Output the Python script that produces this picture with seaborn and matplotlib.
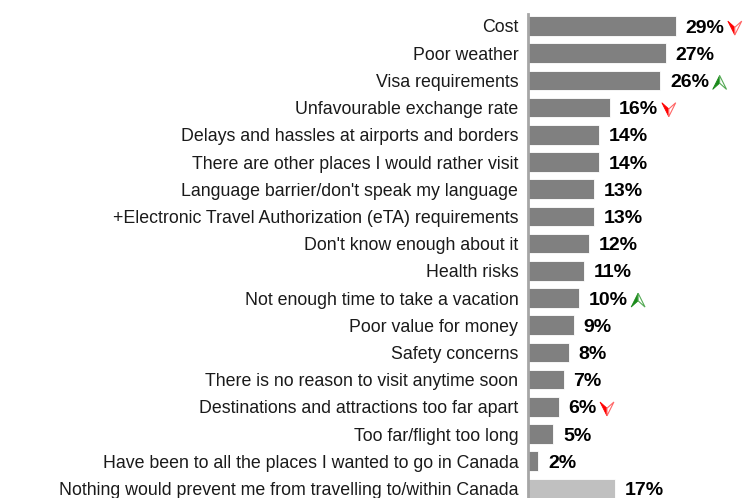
import matplotlib
matplotlib.use("Agg")
import matplotlib.pyplot as plt
import seaborn as sns
from matplotlib.offsetbox import AnnotationBbox, DrawingArea
from matplotlib.patches import Polygon

labels = [
    "Cost",
    "Poor weather",
    "Visa requirements",
    "Unfavourable exchange rate",
    "Delays and hassles at airports and borders",
    "There are other places I would rather visit",
    "Language barrier/don't speak my language",
    "+Electronic Travel Authorization (eTA) requirements",
    "Don't know enough about it",
    "Health risks",
    "Not enough time to take a vacation",
    "Poor value for money",
    "Safety concerns",
    "There is no reason to visit anytime soon",
    "Destinations and attractions too far apart",
    "Too far/flight too long",
    "Have been to all the places I wanted to go in Canada",
    "Nothing would prevent me from travelling to/within Canada",
]
values = [29, 27, 26, 16, 14, 14, 13, 13, 12, 11, 10, 9, 8, 7, 6, 5, 2, 17]
# trend markers: -1 down (red), +1 up (green), 0 none
trends = [-1, 0, 1, -1, 0, 0, 0, 0, 0, 0, 1, 0, 0, 0, -1, 0, 0, 0]

colors = ["#808080"] * (len(labels) - 1) + ["#c0c0c0"]

sns.set_theme(style="white")
plt.rcParams["font.family"] = ["Liberation Sans", "DejaVu Sans"]

fig = plt.figure(figsize=(7.44, 4.98), dpi=100)
ax = fig.add_axes([528 / 744, 0, 214 / 744, (498 - 14) / 498])

sns.barplot(x=values, y=labels, hue=labels, palette=colors, legend=False,
            orient="h", width=0.72, ax=ax, saturation=1, edgecolor="white",
            linewidth=0.6)

ax.set_xlim(0, 42)
ax.set_ylim(17.35, -0.44)
ax.set_xticks([])
ax.set_xlabel("")
ax.set_ylabel("")
ax.tick_params(axis="y", length=0, pad=7, labelsize=12.8, labelcolor="#1a1a1a")
sns.despine(ax=ax, top=True, right=True, bottom=True, left=False)
ax.spines["left"].set_color("#a6a6a6")
ax.spines["left"].set_linewidth(2)


def arrow_box(direction):
    da = DrawingArea(10, 10, 0, 0)
    if direction < 0:
        c_fill, c_edge = "#ff0000", "#ff6666"
        left = [(5, 0), (0, 10), (5, 5.5)]
        right = [(5, 0), (10, 10), (5, 5.5)]
    else:
        c_fill, c_edge = "#1a8a1a", "#55aa55"
        left = [(5, 10), (0, 0), (5, 4.5)]
        right = [(5, 10), (10, 0), (5, 4.5)]
    da.add_artist(Polygon(left, closed=True, facecolor=c_fill,
                          edgecolor=c_fill, linewidth=0.6))
    da.add_artist(Polygon(right, closed=True, facecolor="white",
                          edgecolor=c_edge, linewidth=0.8))
    return da


for i, (v, t) in enumerate(zip(values, trends)):
    txt = ax.annotate(f"{v}%", xy=(v, i), xytext=(7, -1.5),
                      textcoords="offset points", ha="left", va="center",
                      fontsize=14, fontweight="bold", color="black",
                      annotation_clip=False)
    if t != 0:
        ab = AnnotationBbox(arrow_box(t), (1, 0.5), xycoords=txt,
                            box_alignment=(0, 0.5), xybox=(2.5, 0),
                            boxcoords="offset points", frameon=False,
                            pad=0, annotation_clip=False)
        ax.add_artist(ab)

fig.savefig("out.png", dpi=100)
